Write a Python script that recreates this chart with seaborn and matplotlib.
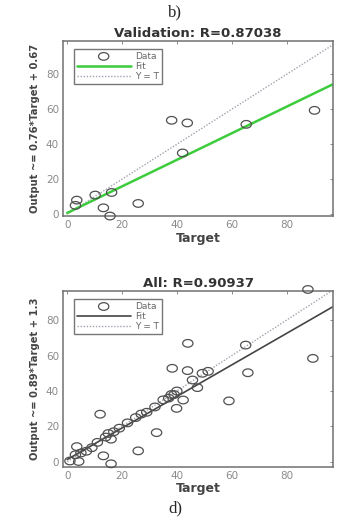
import numpy as np
import pandas as pd
import matplotlib
matplotlib.use('Agg')
import matplotlib.pyplot as plt
import seaborn as sns

# datos
val_target = [3.5, 3.0, 10.2, 16.2, 13.2, 15.6, 25.9, 38.1, 43.8, 42.1, 65.3, 90.2]
val_output = [8.0, 5.0, 10.9, 12.4, 3.6, -1.1, 6.1, 53.7, 52.2, 35.0, 51.4, 59.4]
val_fit = (0.76, 0.67)

all_target = [87.8, 89.6, 65.1, 65.9, 59.0, 44.0, 38.3, 43.9, 42.3, 39.9, 47.5, 45.7,
              49.3, 51.4, 32.6, 25.9, 12.0, 13.2, 16.0, 16.0, 3.5, 4.2, 1.0,
              3.0, 5.0, 7.0, 9.0, 11.0, 14.0, 15.0, 17.0, 19.0, 22.0, 25.0, 27.0,
              29.0, 32.0, 35.0, 37.0, 38.0, 39.0, 40.0]
all_output = [97.3, 58.4, 65.9, 50.3, 34.4, 66.9, 52.8, 51.5, 34.9, 30.2, 41.9, 46.2,
              50.0, 51.1, 16.5, 6.2, 26.9, 3.4, 12.8, -1.1, 8.6, 0.2, 0.5,
              4.0, 5.0, 6.0, 8.0, 11.0, 14.0, 16.0, 17.0, 19.0, 22.0, 25.0, 27.0,
              28.0, 31.0, 35.0, 36.0, 38.0, 38.0, 40.0]
all_fit = (0.89, 1.3)

ticks = [0, 20, 40, 60, 80]

sns.set_style('white')
plt.rcParams['font.family'] = ['DejaVu Sans']

fig = plt.figure(figsize=(3.41, 5.21), dpi=100)

# marcador eliptico como en la imagen original (estirada)
t = np.linspace(0, 2 * np.pi, 40)
elipse = list(zip(1.35 * np.cos(t), np.sin(t)))


def panel(rect, target, output, fit, color_fit, ancho_fit, titulo, ylabel, xlim, ylim):
    ax = fig.add_axes(rect)
    df = pd.DataFrame({'Target': target, 'Output': output})
    xs = np.array([0, 97])
    ax.plot(xs, fit[0] * xs + fit[1], color=color_fit, lw=ancho_fit, label='Fit', zorder=2)
    ax.plot(xs, xs, color='#a0a4b0', lw=1.0, ls=(0, (1, 1.2)), label='Y = T', zorder=1)
    sns.scatterplot(data=df, x='Target', y='Output', ax=ax, marker=elipse, s=55,
                    facecolor='none', edgecolor='#505050', linewidth=0.9,
                    label='Data', zorder=3, clip_on=False)
    ax.set_xlim(*xlim)
    ax.set_ylim(*ylim)
    ax.set_xticks(ticks)
    ax.set_yticks(ticks)
    ax.tick_params(direction='in', length=2.5, width=0.6, colors='#777777',
                   labelsize=7.5, top=True, right=True, labelcolor='#8a8a8a', pad=3)
    for s in ax.spines.values():
        s.set_color('#707070')
        s.set_linewidth(1.1)
    ax.set_title(titulo, fontsize=9.5, fontweight='bold', color='#333333', pad=3)
    ax.set_xlabel('Target', fontsize=9, fontweight='bold', color='#444444', labelpad=1)
    ax.set_ylabel(ylabel, fontsize=7.2, fontweight='bold', color='#444444', labelpad=4)
    h, l = ax.get_legend_handles_labels()
    orden = [l.index('Data'), l.index('Fit'), l.index('Y = T')]
    leg = ax.legend([h[i] for i in orden], [l[i] for i in orden], loc='upper left',
                    fontsize=6.5, frameon=True, fancybox=False, handlelength=6.0,
                    borderpad=0.3, labelspacing=0.12, handletextpad=0.5,
                    bbox_to_anchor=(0.04, 0.955), borderaxespad=0)
    leg.get_frame().set_edgecolor('#555555')
    leg.get_frame().set_linewidth(1.0)
    for txt in leg.get_texts():
        txt.set_color('#666666')
    return ax


panel([0.185, 0.585, 0.792, 0.336], val_target, val_output, val_fit, '#3ccc3c', 1.8,
      'Validation: R=0.87038', 'Output ~= 0.76*Target + 0.67', (-1.5, 97), (-1.2, 99))
panel([0.185, 0.104, 0.792, 0.337], all_target, all_output, all_fit, '#454545', 1.2,
      'All: R=0.90937', 'Output ~= 0.89*Target + 1.3', (-1.5, 97), (-2.8, 96.3))

fig.text(0.513, 0.977, 'b)', ha='center', va='center', fontsize=12,
         family='Liberation Serif')
fig.text(0.513, 0.025, 'd)', ha='center', va='center', fontsize=12,
         family='Liberation Serif')

fig.savefig('out.png', dpi=100, facecolor='white')
